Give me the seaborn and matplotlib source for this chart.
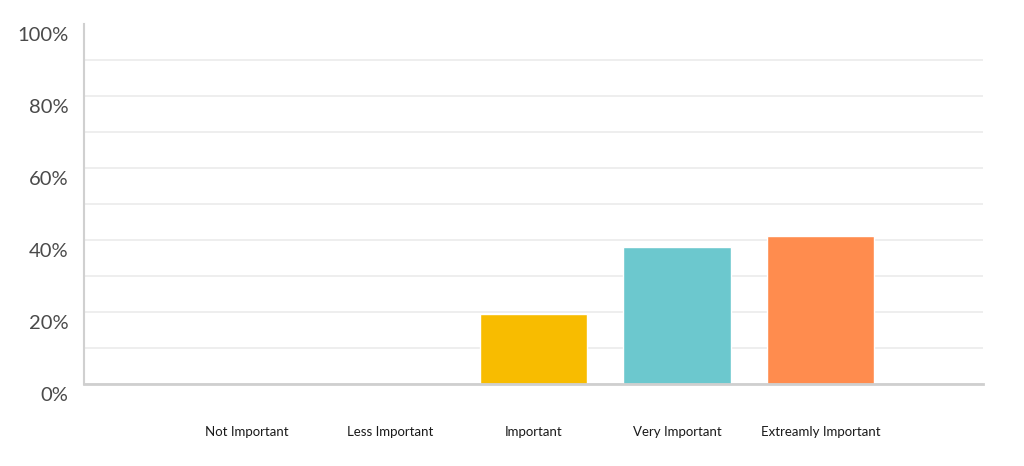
import seaborn as sns
import pandas as pd
import matplotlib.pyplot as plt
import matplotlib.transforms as mtransforms
from matplotlib.ticker import MultipleLocator

categories = ["Not Important", "Less Important", "Important", "Very Important", "Extreamly Important"]
percent = [0, 0, 19.5, 38, 41]
colors = ["#F8BC00", "#F8BC00", "#F8BC00", "#6CC8CE", "#FF8C4E"]

df = pd.DataFrame({"category": categories, "percent": percent})

sns.set_theme(style="white")
plt.rcParams["font.family"] = ["Lato", "DejaVu Sans"]

fig = plt.figure(figsize=(10.24, 4.66), dpi=100)
ax = fig.add_axes([84 / 1024, 1 - 384 / 466, (983 - 84) / 1024, (384 - 24) / 466])

sns.barplot(data=df, x="category", y="percent", hue="category", palette=colors,
            width=0.75, legend=False, ax=ax, saturation=1)

ax.set_xlim(-1.132, 5.132)
ax.set_ylim(0, 100)
ax.yaxis.set_minor_locator(MultipleLocator(10))
ax.set_yticks(range(0, 101, 20))
ax.set_yticklabels([f"{v}%" for v in range(0, 101, 20)], fontsize=14.5, color="#4a4a4a")
ax.grid(axis="y", which="both", color="#ebebeb", linewidth=1.2)
ax.set_axisbelow(True)
ax.yaxis.get_gridlines()[-1].set_visible(False)
ax.tick_params(axis="y", which="both", length=0, pad=11)
ax.tick_params(axis="x", length=0, pad=30, labelsize=9.5, labelcolor="#1a1a1a")
ax.set_xlabel("")
ax.set_ylabel("")

for side in ["top", "right"]:
    ax.spines[side].set_visible(False)
ax.spines["left"].set_color("#d0d0d0")
ax.spines["left"].set_linewidth(1.5)
ax.spines["bottom"].set_color("#cfcfcf")
ax.spines["bottom"].set_linewidth(2)

# labels sit a bit below their gridlines in the original
shift = mtransforms.ScaledTranslation(0, -0.1, fig.dpi_scale_trans)
for lbl in ax.get_yticklabels():
    lbl.set_transform(lbl.get_transform() + shift)

fig.savefig("out.png", dpi=100, facecolor="white")
